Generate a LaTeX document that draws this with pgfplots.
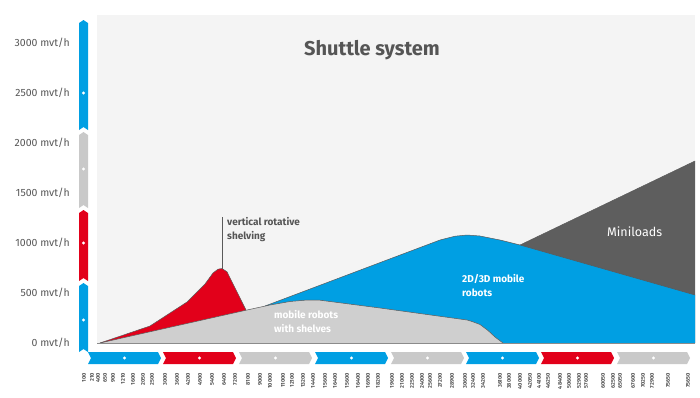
\documentclass[border=0pt]{standalone}
\usepackage{pgfplots}
\pgfplotsset{compat=1.18}
\usepackage{pgfplotstable}
\usepackage{fontspec}
\setmainfont{Fira Sans}
\definecolor{cblue}{HTML}{009FE3}
\definecolor{cred}{HTML}{E2001A}
\definecolor{cgray}{HTML}{CFCFCF}
\definecolor{cbar}{HTML}{C9C9C9}
\definecolor{cdark}{HTML}{5E5E5E}
\definecolor{cbg}{HTML}{F4F4F4}
\definecolor{ctext}{HTML}{555555}
\definecolor{cline}{HTML}{5A5A5A}

% x = horizontal position (px), y = throughput (mvt/h)
\pgfplotstableread{
x y
100 0
247 330
270 380
290 415
307 430
320 428
380 350
467 230
472 215
480 185
488 125
495 60
503 0
}\grayT
\pgfplotstableread{
x y
100 0
150 170
187 410
205 590
213 700
218 738
222 745
227 712
246 330
}\redT
\pgfplotstableread{
x y
265 370
380 804
440 1030
455 1068
467 1080
480 1070
500 1030
520 980
695 480
}\blueT
\pgfplotstableread{
x y
520 980
695 1820
}\miniT

\begin{document}
\begin{tikzpicture}[x=1pt,y=-1pt]
\useasboundingbox (0,0) rectangle (700,397);
% left bar
\foreach \t/\b/\c/\d in {20/130/cblue/93, 132/208/cbar/169, 210/281/cred/243, 283/352/cblue/320}{
  \fill[\c] (79,\t+3) -- (83.5,\t) -- (88,\t+3) -- (88,\b) -- (83.5,\b-3) -- (79,\b) -- cycle;
  \fill[white] (83.5,\d) circle (1.6);
}
% bottom bar
\foreach \a/\c in {88/cblue,163/cred,239/cbar,315/cblue,391/cbar,466/cblue,541/cred,617/cbar}{
  \fill[\c] (\a,352) -- (\a+70,352) -- (\a+73,358) -- (\a+70,364) -- (\a,364) -- (\a+3,358) -- cycle;
  \fill[white] (\a+36.5,358) circle (1.6);
}
\begin{axis}[
  at={(80pt,-343pt)}, anchor=south west,
  scale only axis, width=615pt, height=328pt,
  xmin=80, xmax=695, ymin=0, ymax=3280,
  clip=false,
  axis line style={draw=none},
  major tick length=0pt,
  ytick={0,500,...,3000},
  yticklabels={0 mvt/h,500 mvt/h,1000 mvt/h,1500 mvt/h,2000 mvt/h,2500 mvt/h,3000 mvt/h},
  yticklabel style={anchor=east, inner sep=0pt, xshift=-10pt, font=\fontsize{10.5}{12}\selectfont, text=ctext},
  xtick={84,92,98,105,113,123,133,143,152,165,177,188,200,212,224,235,248,260,270,283,292,303,313,325,335,347,358,368,378,392,402,412,422,430,440,452,465,473,483,500,509,520,530,539,548,560,569,579,586,603,613,620,633,643,652,668,688},
  xticklabels={100,210,400,650,900,1210,1600,2050,2500,3000,3600,4200,4900,5400,6400,7200,8100,9000,10000,11000,12100,13200,14400,15600,16400,15600,16400,16900,18200,19600,21000,22500,24000,25600,27200,28900,30600,32400,34200,36100,38000,40000,42050,44100,46250,48400,50600,52900,57600,60050,62500,65050,67600,70250,72900,75650,75650},
  xticklabel style={yshift=-30pt, rotate=90, anchor=east, inner sep=0pt, font=\fontsize{5.5}{6}\selectfont\bfseries, text=ctext},
]
\fill[cbg] (axis cs:97,0) rectangle (axis cs:695,3280);
\addplot[fill=cdark, draw=none] table {\miniT} \closedcycle;
\addplot[fill=cblue, draw=none] table {\blueT} \closedcycle;
\addplot[fill=cred, draw=none] table {\redT} \closedcycle;
\addplot[fill=cgray, draw=none] table {\grayT} \closedcycle;
\addplot[cline, line width=0.5pt] table {\miniT};
\addplot[cline, line width=0.5pt] table {\blueT};
\addplot[cline, line width=0.5pt] table {\redT};
\addplot[cline, line width=0.5pt] table {\grayT};
\draw[cline!70, line width=0.6pt] (axis cs:97,0) -- (axis cs:695,0);
\draw[cline, line width=0.6pt] (axis cs:222,745) -- (axis cs:222,1260);
\node[anchor=north west, align=left, inner sep=0pt, text=ctext, font=\fontsize{10}{14}\selectfont\bfseries] at (axis cs:227,1255) {vertical rotative\\shelving};
\node[anchor=north west, align=left, inner sep=0pt, text=white, font=\fontsize{10}{14}\selectfont\bfseries] at (axis cs:274,325) {mobile robots\\with shelves};
\node[anchor=north west, align=left, inner sep=0pt, text=white, font=\fontsize{10}{14}\selectfont\bfseries] at (axis cs:462,685) {2D/3D mobile\\robots};
\node[anchor=west, inner sep=0pt, text=white, font=\fontsize{12.5}{14}\selectfont] at (axis cs:607,1110) {Miniloads};
\node[inner sep=0pt, text=ctext, font=\fontsize{20}{24}\selectfont\bfseries] at (axis cs:372,2930) {Shuttle system};
\end{axis}
\end{tikzpicture}
\end{document}
